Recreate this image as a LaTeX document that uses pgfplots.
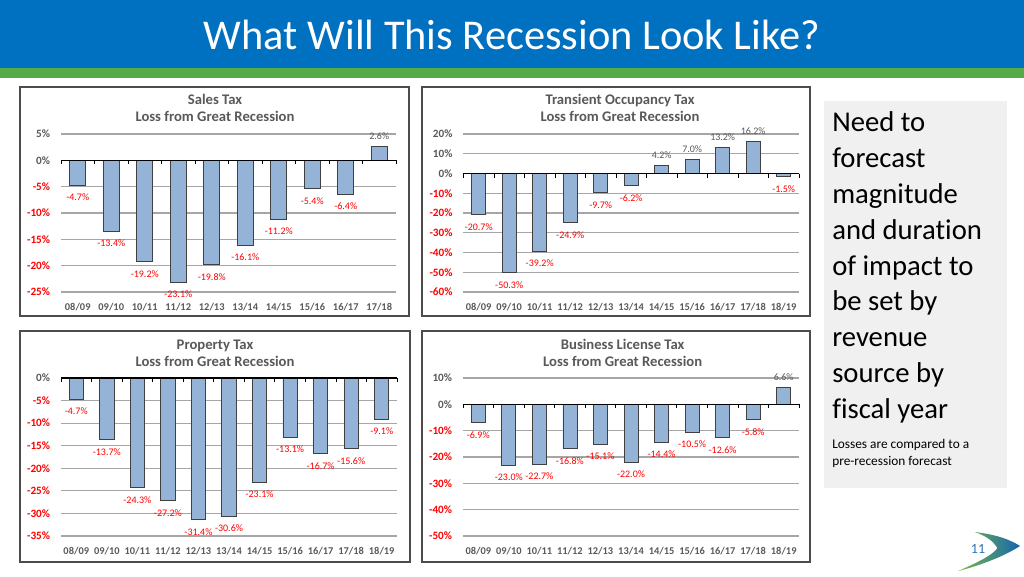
\documentclass[border=0pt]{standalone}
\usepackage{fontspec}
\setmainfont{Carlito}[Ligatures=NoCommon]
\usepackage{pgfplots}
\pgfplotsset{compat=1.18}
\definecolor{lblgray}{HTML}{595959}
\definecolor{barblue}{HTML}{95B3D7}
\definecolor{titleblue}{HTML}{0070C0}
\definecolor{titlegreen}{HTML}{55AB4A}
\definecolor{gridgray}{HTML}{A6A6A6}
\definecolor{boxgray}{HTML}{F0F0F0}
\definecolor{pgnum}{HTML}{2E75B6}
\definecolor{logoblue}{HTML}{1565B0}
\definecolor{logogreen}{HTML}{7DBB42}
\newcommand\nl[1]{\textcolor{red}{#1\%}}
\newcommand\pl[1]{\textcolor{lblgray}{#1\%}}
\pgfplotsset{
  panel/.style={
    scale only axis, ybar, clip=false,
    axis line style={draw=none},
    major tick length=0pt,
    ymajorgrids, grid style={gridgray, line width=0.8pt},
    xtick={0,...,10},
    /pgf/number format/assume math mode=true,
    xticklabel style={font=\fontsize{7.8}{9}\selectfont\bfseries, text=lblgray, yshift=-5pt},
    yticklabel style={font=\fontsize{8.4}{10}\selectfont\bfseries, xshift=-4.7pt},
  },
  bars/.style={fill=barblue, draw=black!75, line width=0.6pt, bar shift=0pt},
  neglab/.style={nodes near coords={\pgfmathprintnumber[fixed,fixed zerofill,precision=1,assume math mode=true]{\pgfplotspointmeta}\%},
    every node near coord/.append style={text=red, font=\fontsize{7.5}{9}\selectfont, anchor=north, yshift=-3pt}},
  poslab/.style={nodes near coords={\pgfmathprintnumber[fixed,fixed zerofill,precision=1,assume math mode=true]{\pgfplotspointmeta}\%},
    every node near coord/.append style={text=lblgray, font=\fontsize{7.5}{9}\selectfont, anchor=south, yshift=1.5pt}},
}
\begin{document}
\begin{tikzpicture}
\path[use as bounding box] (0,0) rectangle (768pt,432pt);
\fill[white] (0,0) rectangle (768pt,432pt);
% title bar
\fill[titleblue] (0,381pt) rectangle (768pt,432pt);
\fill[titlegreen] (0,373.5pt) rectangle (768pt,381pt);
\node[text=white, font=\fontsize{31.8}{36}\selectfont] at (384pt,405.5pt) {What Will This Recession Look Like?};
% panel frames
\draw[gray!60!black, line width=0.8pt] (15pt,195pt) rectangle (306.75pt,366.75pt);
\draw[gray!60!black, line width=0.8pt] (316.5pt,195pt) rectangle (607.5pt,366.75pt);
\draw[gray!60!black, line width=0.8pt] (15pt,10.5pt) rectangle (307.5pt,183.75pt);
\draw[gray!60!black, line width=0.8pt] (316.5pt,10.5pt) rectangle (607.5pt,183.75pt);
% panel titles
\begin{scope}[every node/.style={text=lblgray, font=\fontsize{11}{13}\selectfont\bfseries, anchor=base, inner sep=0pt}]
\node at (161.25pt,353.25pt) {Sales Tax};
\node at (161.25pt,340.5pt) {Loss from Great Recession};
\node at (465pt,353.25pt) {Transient Occupancy Tax};
\node at (465pt,340.5pt) {Loss from Great Recession};
\node at (161.25pt,170.25pt) {Property Tax};
\node at (161.25pt,157.5pt) {Loss from Great Recession};
\node at (467pt,170.25pt) {Business License Tax};
\node at (467pt,157.5pt) {Loss from Great Recession};
\end{scope}

% Sales Tax
\begin{axis}[panel, at={(45.75pt,213pt)}, anchor=south west, width=251.25pt, height=118.5pt,
  xmin=-0.5, xmax=9.5, ymin=-25, ymax=5, ytick={-25,-20,...,5},
  yticklabels={\nl{-25},\nl{-20},\nl{-15},\nl{-10},\nl{-5},\pl{0},\pl{5}},
  xticklabels={08/09,09/10,10/11,11/12,12/13,13/14,14/15,15/16,16/17,17/18},
  bar width=12pt]
\addplot[bars, neglab] coordinates {(0,-4.7) (1,-13.4) (2,-19.2) (3,-23.1) (4,-19.8) (5,-16.1) (6,-11.2) (7,-5.4) (8,-6.4)};
\addplot[bars, poslab] coordinates {(9,2.6)};
\draw[black, line width=0.8pt] (axis cs:-0.5,0) -- (axis cs:9.5,0);
\pgfplotsinvokeforeach{-0.5,0.5,...,9.5}{\draw[black, line width=0.6pt] (axis cs:#1,0) -- ++(0pt,-3pt);}
\end{axis}

% Transient Occupancy Tax
\begin{axis}[panel, at={(347.6pt,213pt)}, anchor=south west, width=251.6pt, height=118.5pt,
  xmin=-0.5, xmax=10.5, ymin=-60, ymax=20, ytick={-60,-50,...,20},
  yticklabels={\nl{-60},\nl{-50},\nl{-40},\nl{-30},\nl{-20},\nl{-10},\pl{0},\pl{10},\pl{20}},
  xticklabels={08/09,09/10,10/11,11/12,12/13,13/14,14/15,15/16,16/17,17/18,18/19},
  bar width=10.7pt]
\addplot[bars, neglab] coordinates {(0,-20.7) (1,-50.3) (2,-39.2) (3,-24.9) (4,-9.7) (5,-6.2) (10,-1.5)};
\addplot[bars, poslab] coordinates {(6,4.2) (7,7.0) (8,13.2) (9,16.2)};
\draw[black, line width=0.8pt] (axis cs:-0.5,0) -- (axis cs:10.5,0);
\pgfplotsinvokeforeach{-0.5,0.5,...,10.5}{\draw[black, line width=0.6pt] (axis cs:#1,0) -- ++(0pt,-3pt);}
\end{axis}

% Property Tax
\begin{axis}[panel, at={(45.75pt,30pt)}, anchor=south west, width=252pt, height=118.5pt,
  xmin=-0.5, xmax=10.5, ymin=-35, ymax=0, ytick={-35,-30,...,0},
  yticklabels={\nl{-35},\nl{-30},\nl{-25},\nl{-20},\nl{-15},\nl{-10},\nl{-5},\pl{0}},
  xticklabels={08/09,09/10,10/11,11/12,12/13,13/14,14/15,15/16,16/17,17/18,18/19},
  bar width=10.7pt]
\addplot[bars, neglab] coordinates {(0,-4.7) (1,-13.7) (2,-24.3) (3,-27.2) (4,-31.4) (5,-30.6) (6,-23.1) (7,-13.1) (8,-16.7) (9,-15.6) (10,-9.1)};
\draw[black, line width=0.8pt] (axis cs:-0.5,0) -- (axis cs:10.5,0);
\pgfplotsinvokeforeach{-0.5,0.5,...,10.5}{\draw[black, line width=0.6pt] (axis cs:#1,0) -- ++(0pt,-3pt);}
\end{axis}

% Business License Tax
\begin{axis}[panel, at={(347.25pt,30pt)}, anchor=south west, width=252pt, height=118.5pt,
  xmin=-0.5, xmax=10.5, ymin=-50, ymax=10, ytick={-50,-40,...,10},
  yticklabels={\nl{-50},\nl{-40},\nl{-30},\nl{-20},\nl{-10},\pl{0},\pl{10}},
  xticklabels={08/09,09/10,10/11,11/12,12/13,13/14,14/15,15/16,16/17,17/18,18/19},
  bar width=10.5pt]
\addplot[bars, neglab] coordinates {(0,-6.9) (1,-23.0) (2,-22.7) (3,-16.8) (4,-15.1) (5,-22.0) (6,-14.4) (7,-10.5) (8,-12.6) (9,-5.8)};
\addplot[bars, poslab] coordinates {(10,6.6)};
\draw[black, line width=0.8pt] (axis cs:-0.5,0) -- (axis cs:10.5,0);
\pgfplotsinvokeforeach{-0.5,0.5,...,10.5}{\draw[black, line width=0.6pt] (axis cs:#1,0) -- ++(0pt,-3pt);}
\end{axis}

% right text box
\fill[boxgray] (618pt,66pt) rectangle (755.25pt,356.25pt);
\begin{scope}[every node/.style={anchor=base west, inner sep=0pt, font=\fontsize{21.5}{26}\selectfont}]
\node at (624pt,333pt) {Need to};
\node at (624pt,306.19pt) {forecast};
\node at (624pt,279.375pt) {magnitude};
\node at (624pt,252.56pt) {and duration};
\node at (624pt,225.75pt) {of impact to};
\node at (624pt,198.94pt) {be set by};
\node at (624pt,172.125pt) {revenue};
\node at (624pt,145.31pt) {source by};
\node at (624pt,118.5pt) {fiscal year};
\end{scope}
\begin{scope}[every node/.style={anchor=base west, inner sep=0pt, font=\fontsize{10}{12}\selectfont}]
\node at (624pt,96pt) {Losses are compared to a};
\node at (624pt,83.25pt) {pre-recession forecast};
\end{scope}
% logo and page number
\shade[left color=logogreen, right color=logoblue]
  (731pt,33pt) .. controls (748pt,31pt) and (758pt,27pt) .. (765pt,22.5pt)
  .. controls (752pt,14pt) and (732pt,7pt) .. (718.5pt,3.75pt)
  .. controls (733pt,10pt) and (745pt,16pt) .. (748pt,21pt)
  .. controls (745pt,26pt) and (740pt,30pt) .. cycle;
\node[text=pgnum, font=\fontsize{10.5}{12}\selectfont] at (733.5pt,20.25pt) {11};
\end{tikzpicture}
\end{document}
